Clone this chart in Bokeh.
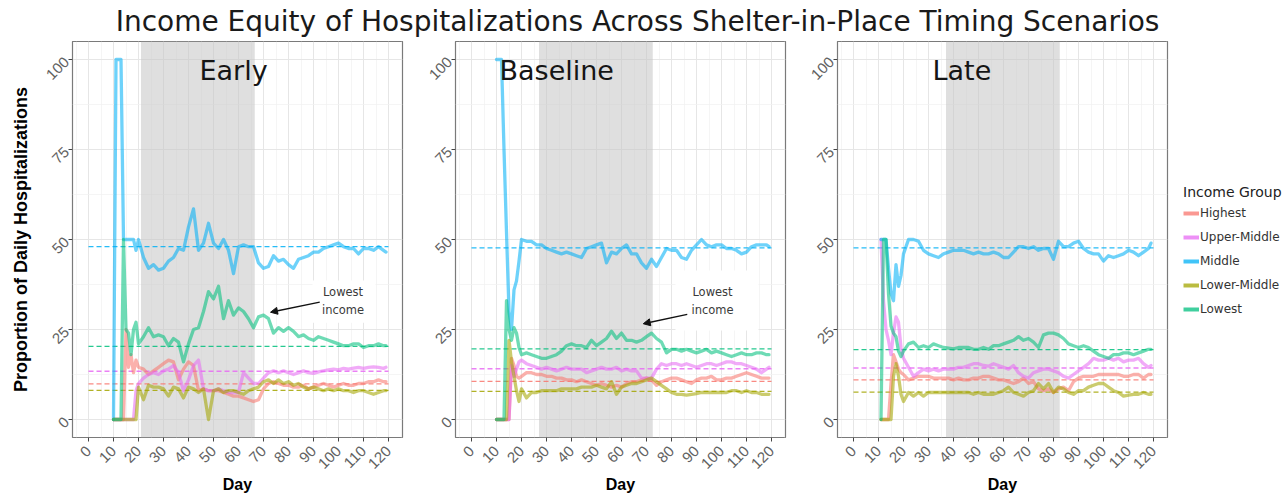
import math
import numpy as np
from bokeh.plotting import figure
from bokeh.models import (Range1d, BoxAnnotation, Label, Arrow, NormalHead, Legend,
                          LegendItem, FixedTicker)
from bokeh.layouts import row, column
from bokeh.embed import file_html
from bokeh.resources import INLINE

nan = float("nan")

TITLE = "Income Equity of Hospitalizations Across Shelter-in-Place Timing Scenarios"
SCENARIOS = ["Early", "Baseline", "Late"]
GROUPS = ["Highest", "Upper-Middle", "Middle", "Lower-Middle", "Lowest"]
COLORS = ["#F8766D", "#E76BF3", "#00B0F6", "#A3A500", "#00BF7D"]

X_TICKS = [0, 10, 20, 30, 40, 50, 60, 70, 80, 90, 100, 110, 120]
X_MINOR = [-5, 5, 15, 25, 35, 45, 55, 65, 75, 85, 95, 105, 115, 125]
Y_TICKS = [0, 25, 50, 75, 100]
Y_MINOR = [12.5, 37.5, 62.5, 87.5]

DAYS = [10, 11, 12, 13, 14, 15, 16, 17, 18, 19, 20,
        22, 24, 26, 28, 30, 32, 34, 36, 38, 40,
        42, 44, 46, 48, 50, 52, 54, 56, 58, 60,
        62, 64, 66, 68, 70, 72, 74, 76, 78, 80,
        82, 84, 86, 88, 90, 92, 94, 96, 98, 100,
        102, 104, 106, 108, 110, 112, 114, 116, 118, 119]

# shelter-in-place windows (days)
SIP_START = [21, 27, 37]
SIP_END = [66.5, 72.5, 82.5]

# population-share reference levels (dashed), order = GROUPS
REF_EARLY = [9.9, 13.4, 48.0, 8.1, 20.3]
REF_BASELINE = [10.6, 14.1, 47.7, 7.8, 19.6]
REF_LATE = [11.0, 14.3, 47.7, 7.6, 19.4]
REF_FROM_DAY = 0
REF_TO_DAY = 120

# ---------------- Early ----------------
EARLY_HIGHEST = [0, 0, 0, 0, 0, 25, 14.5, 18, 13, 16.5, 14.5,
                 14, 12.5, 13.5, 14.5, 15.5, 16.5, 16, 11, 14, 16,
                 15, 8, 8.5, 8, 8, 8, 7.5, 7, 6.5, 6.5,
                 6, 5.5, 5, 5.5, 8.5, 10, 10.5, 10, 9.5, 9.5,
                 9, 9, 9.5, 8.5, 9, 9.5, 10, 9.5, 9, 9.5,
                 10, 9.5, 9.5, 10, 10, 10.5, 10.5, 11, 10.5, 10.5]
EARLY_UPPER_MIDDLE = [0, 0, 0, 0, 0, 0, 0, 0, 0, 8, 10,
                      11.5, 12.5, 13, 12.5, 13.5, 14, 15, 13, 8, 11,
                      15, 16.5, 8.5, 8, 8, 8.5, 8, 7.5, 7.5, 7.5,
                      13, 11.5, 10, 10, 11.5, 13, 13.5, 13, 13.5, 13,
                      12.5, 13, 13.5, 13, 12.8, 13.2, 13.5, 13.8, 14, 13.8,
                      14.2, 14, 14.3, 14.5, 14.2, 14.5, 14.6, 14.5, 14.2, 14.5]
EARLY_MIDDLE = [0, 100, 100, 100, 50, 50, 50, 50, 50, 47, 50,
                45, 42, 43, 41.5, 42, 44, 45, 47.5, 47, 53.5,
                58.5, 47, 49, 54.5, 49, 47.5, 50, 47, 40.5, 48,
                48.5, 48, 48, 43.5, 42, 42.5, 45.5, 44, 44.5, 43,
                42, 44.5, 45, 45.5, 46.5, 46.5, 47.5, 48, 48.5, 49,
                48, 47.5, 47.5, 46, 47.5, 47.5, 47, 48, 47, 46.5]
EARLY_LOWER_MIDDLE = [0, 0, 0, 0, 0, 0, 0, 0, 0, 0, 9,
                      5.5, 9.5, 9, 9, 8.5, 6.5, 9, 8.5, 6, 9,
                      8.5, 7.5, 8.5, 0, 8, 8.5, 7.5, 8, 8, 7.5,
                      7, 8, 8.5, 9, 10.5, 11, 10, 11, 10, 10.5,
                      9.5, 10, 9, 8.5, 9, 8.5, 8, 8.5, 8, 8.5,
                      8, 8, 7.5, 8, 8, 7.5, 7, 7.5, 8, 8]
EARLY_LOWEST = [0, 0, 0, 0, 50, 25, 24, 18, 25, 27, 21,
                23, 25.5, 23, 23.5, 23, 20.5, 22.5, 21.5, 16, 21,
                25, 25.5, 30, 35.5, 33.5, 37, 28, 33, 29, 31,
                30, 28, 25.5, 28.5, 29, 28, 24, 25.5, 24.5, 25.5,
                24.5, 23, 23.5, 22.5, 22, 23, 22.5, 22, 21.5, 21,
                20.5, 20.5, 21, 21, 20, 20.5, 20.5, 21, 20.5, 20.5]

# ---------------- Baseline ----------------
BASELINE_HIGHEST = [0, 0, 0, 0, 0, 0, 17, 15, 12, 11.5, 12,
                    13, 13, 12.5, 12.5, 12, 12, 11.5, 11.5, 11, 11,
                    10.5, 11, 10.5, 10, 9.5, 10, 9.5, 9, 9.5, 9,
                    10, 10.5, 10.5, 11, 11.5, 11, 9.5, 10.5, 11, 11.5,
                    11.5, 11, 10.5, 10, 11, 11.5, 11.5, 12, 11, 11,
                    11.5, 11.5, 12, 12.5, 13, 12.5, 12, 11.5, 11.5, 11.5]
BASELINE_UPPER_MIDDLE = [0, 0, 0, 0, 0, 0, 15, 12, 14, 16, 16.5,
                         15.5, 15, 14.5, 14, 14.5, 14, 13.5, 14, 14.5, 14,
                         14, 14, 13, 13.5, 14, 14.5, 14, 14, 14.5, 13.5,
                         14, 13.5, 13.5, 11.5, 11.5, 11.5, 14, 15.5, 15, 15.5,
                         15.5, 15, 15.5, 15, 14.5, 15, 15.5, 15.5, 15, 15.5,
                         16, 16, 15.5, 15.5, 15, 14.5, 14, 13, 14, 14.5]
BASELINE_MIDDLE = [100, 100, 100, 75, 52, 30, 25, 36, 38.5, 44, 50,
                   49.5, 49.5, 48.5, 48.5, 47.5, 47, 46.5, 46, 46.5, 46,
                   45.5, 45, 47.5, 48, 48.5, 49, 43.5, 46.5, 46, 47.5,
                   48.5, 46, 46, 43.5, 42, 44.5, 42.5, 45, 47.5, 47,
                   47, 45, 44.5, 47, 48.5, 50, 48.5, 48, 48.5, 48.5,
                   47.5, 47.5, 47, 46, 46.5, 48, 48.5, 48.5, 48.5, 48]
BASELINE_LOWER_MIDDLE = [0, 0, 0, 0, 0, 22, 16, 12, 8, 5, 8.5,
                         6, 7.5, 7.5, 8, 8, 8, 8, 8.5, 8.5, 8.5,
                         8.5, 9, 9, 9, 9.5, 9, 8.5, 10.5, 7, 9,
                         9.5, 10, 10, 10.5, 11, 11.5, 10.5, 9.5, 8.5, 7.5,
                         7, 7, 6.8, 7, 7.2, 7.5, 7.5, 7.5, 7.5, 7.5,
                         7.5, 8, 8, 7.5, 8, 7.5, 7.5, 7, 7, 7]
BASELINE_LOWEST = [0, 0, 0, 0, 33, 25, 22, 25.5, 24, 20, 18,
                   18.5, 18, 17.5, 17, 17, 17.5, 18, 19, 20.5, 21,
                   20.5, 20.5, 20, 22, 20.5, 21.5, 22.5, 24.5, 22.5, 24,
                   22, 22, 21.5, 22, 23, 24, 22.5, 21.5, 18.5, 19.5,
                   19.5, 19, 19.5, 19, 18.5, 19, 19.5, 18.5, 19, 18.5,
                   18, 17.5, 18, 18.5, 18, 18, 18.5, 18.5, 18, 18]

# ---------------- Late ----------------
LATE_HIGHEST = [nan, 0, 0, 0, 0, 10, 18, 16, 14, 13, 12.5,
                11, 11.5, 12, 12, 12, 11.5, 11.5, 11.5, 11.5, 11,
                11.5, 11, 11, 11.5, 11.5, 12, 12, 11.5, 11, 11,
                10.5, 10, 10.5, 11.5, 10, 10.5, 8.5, 8, 8.5, 7.5,
                8.5, 9, 8, 10.5, 11.5, 12, 12, 12, 12.5, 12.5,
                12.5, 12.5, 12.5, 12, 12, 12.5, 12.5, 11.5, 12.5, 12.5]
LATE_UPPER_MIDDLE = [nan, 50, 33, 25, 22, 18, 24, 28.5, 27, 20, 17,
                     14.5, 12, 13, 14, 13.5, 14, 13.5, 14, 14, 14,
                     14.5, 14.5, 15, 15.5, 15.5, 15, 14.8, 15.5, 15, 14.5,
                     14, 15, 13, 12, 11.5, 13, 13.5, 14, 14, 13.5,
                     13, 12, 11.5, 12.5, 13.5, 14.5, 15.5, 17, 16.5, 16.5,
                     17, 16.5, 17, 16, 16.5, 16.5, 17, 15.5, 14.5, 15]
LATE_MIDDLE = [nan, 50, 50, 50, 42, 35, 33, 43, 37, 40, 46,
               50, 50, 49.5, 47, 46, 45.5, 45, 46, 46.5, 47,
               47, 47, 46.5, 46, 46.5, 46, 46, 46.5, 46, 45,
               45, 46.5, 48, 48, 47.5, 48, 47, 47.5, 47.5, 44.5,
               49.5, 48, 48, 49, 49.5, 47.5, 46.5, 46, 46, 44,
               45.5, 45, 45.5, 46, 47, 46.5, 45.5, 46.5, 47.5, 49]
LATE_LOWER_MIDDLE = [nan, 0, 0, 0, 0, 0, 12, 15.5, 12, 7, 5,
                     7.5, 6.5, 7.5, 6.5, 7.5, 7.5, 7.5, 7.5, 7.5, 7.5,
                     7.5, 7.5, 7.5, 7, 7.5, 7, 7, 7, 7.5, 8,
                     9, 7.5, 7, 6.5, 7.5, 8, 10, 8.5, 10, 7.5,
                     9, 8.5, 7.5, 7, 8, 8, 9, 9.5, 10, 10,
                     9, 8, 7.5, 6.5, 6.8, 7, 7, 7.5, 7, 7]
LATE_LOWEST = [nan, 0, 50, 50, 35, 26, 24, 23, 19, 17.5, 19,
               21, 21.5, 20, 20.5, 20, 21, 20.5, 20, 19.8, 19.6,
               20, 20, 20, 19.5, 19.5, 20, 19.5, 20.5, 20.5, 21,
               21.5, 22, 23, 22, 22.5, 21.5, 20, 23.5, 24, 24,
               23.5, 22.5, 21, 20.5, 20, 20.5, 20, 19, 18, 17.5,
               17, 18, 18, 18.5, 18.5, 18, 18.5, 19, 19.5, 19.5]

SERIES = {
    "Early": [EARLY_HIGHEST, EARLY_UPPER_MIDDLE, EARLY_MIDDLE, EARLY_LOWER_MIDDLE, EARLY_LOWEST],
    "Baseline": [BASELINE_HIGHEST, BASELINE_UPPER_MIDDLE, BASELINE_MIDDLE, BASELINE_LOWER_MIDDLE, BASELINE_LOWEST],
    "Late": [LATE_HIGHEST, LATE_UPPER_MIDDLE, LATE_MIDDLE, LATE_LOWER_MIDDLE, LATE_LOWEST],
}
REFS = {"Early": REF_EARLY, "Baseline": REF_BASELINE, "Late": REF_LATE}

ANNOT_LINES = ["Lowest", "income"]

SANS = "Liberation Sans"
VER = "DejaVu Sans"


def make_panel(i, name, left_border, right_border, ylabel):
    p = figure(frame_width=330, frame_height=396,
               x_range=Range1d(-6.4, 125.6), y_range=Range1d(-5, 105),
               output_backend="svg", toolbar_location=None,
               min_border_left=left_border, min_border_right=right_border,
               min_border_top=0, min_border_bottom=50,
               background_fill_color="white", border_fill_color="white")
    p.outline_line_color = "#7a7a7a"
    p.outline_line_width = 1.2

    p.xaxis.ticker = FixedTicker(ticks=X_TICKS, minor_ticks=X_MINOR)
    p.yaxis.ticker = FixedTicker(ticks=Y_TICKS, minor_ticks=Y_MINOR)
    for ax in (p.xaxis[0], p.yaxis[0]):
        ax.axis_line_color = None
        ax.major_tick_line_color = "#444444"
        ax.major_tick_out = 4
        ax.major_tick_in = 0
        ax.minor_tick_line_color = None
        ax.major_label_text_font = SANS
        ax.major_label_text_font_size = "15px"
        ax.major_label_text_color = "#626262"
        ax.major_label_orientation = math.pi / 4
        ax.major_label_standoff = 2
    p.xaxis.major_label_standoff = 7
    p.xaxis.axis_label = "Day"
    p.xaxis.axis_label_text_font = SANS
    p.xaxis.axis_label_text_font_style = "bold"
    p.xaxis.axis_label_text_font_size = "16px"
    p.xaxis.axis_label_text_color = "black"
    p.xaxis.axis_label_standoff = 0
    if ylabel:
        p.yaxis.axis_label = "Proportion of Daily Hospitalizations"
        p.yaxis.axis_label_text_font = SANS
        p.yaxis.axis_label_text_font_style = "bold"
        p.yaxis.axis_label_text_font_size = "18px"
        p.yaxis.axis_label_text_color = "black"
        p.yaxis.axis_label_standoff = 8

    for g in (p.xgrid[0], p.ygrid[0]):
        g.grid_line_color = "#e6e6e6"
        g.grid_line_width = 1
        g.minor_grid_line_color = "#f1f1f1"
        g.minor_grid_line_width = 0.7

    # shelter-in-place window
    p.add_layout(BoxAnnotation(left=SIP_START[i], right=SIP_END[i], level="underlay",
                               fill_color="#c4c4c4", fill_alpha=0.55, line_color=None))

    # dashed reference levels
    refs = REFS[name]
    p.segment(x0=[REF_FROM_DAY] * len(GROUPS), x1=[REF_TO_DAY] * len(GROUPS),
              y0=refs, y1=refs, line_color=COLORS, line_dash="5 3",
              line_width=1.3, line_alpha=0.85)

    for vals, col in zip(SERIES[name], COLORS):
        p.line(np.array(DAYS, dtype=float), np.array(vals, dtype=float),
               line_color=col, line_width=3.3, line_alpha=0.57,
               line_join="round", line_cap="round")
    return p


p1 = make_panel(0, "Early", 72, 12, True)
p2 = make_panel(1, "Baseline", 41, 12, False)
p3 = make_panel(2, "Late", 40, 115, False)

# scenario labels
for p, name, lx in ((p1, "Early", 44.4), (p2, "Baseline", 11.2), (p3, "Late", 31.6)):
    p.add_layout(Label(x=lx, y=97, text=name, text_font=VER, text_font_size="27px",
                       text_color="#151515", text_baseline="middle", text_align="left"))

# "Lowest income" annotations
for p, (bl, br, bb, bt), tx, (xs, ys, xe, ye) in (
        (p1, (89.6, 114.8, 26.9, 38.6), 101.8, (92.5, 32.6, 72.8, 29.8)),
        (p2, (81.6, 114.8, 24.7, 41.4), 96.4, (86.3, 29.2, 68.7, 26.6))):
    p.add_layout(BoxAnnotation(left=bl, right=br, bottom=bb, top=bt, level="underlay",
                               fill_color="white", fill_alpha=1, line_color=None))
    p.add_layout(Label(x=tx, y=35.3, text=ANNOT_LINES[0], text_font=VER, text_font_size="11.5px",
                       text_color="#3a3a3a", text_align="center", text_baseline="middle"))
    p.add_layout(Label(x=tx, y=30.3, text=ANNOT_LINES[1], text_font=VER, text_font_size="11.5px",
                       text_color="#3a3a3a", text_align="center", text_baseline="middle"))
    p.add_layout(Arrow(end=NormalHead(size=7, fill_color="#111111", line_color="#111111"),
                       x_start=xs, y_start=ys, x_end=xe, y_end=ye,
                       line_color="#111111", line_width=1.4))

# legend keys: renderers that draw nothing in the panel, only a bold key glyph
items = []
for gname, col in zip(GROUPS, COLORS):
    r = p3.line(x=[nan], y=[nan], line_color=col, line_width=4, line_alpha=0.75)
    items.append(LegendItem(label=gname, renderers=[r]))
legend = Legend(items=items, location=(16, 118), title="Income Group",
                title_text_font=VER, title_text_font_size="14px", title_text_font_style="normal",
                title_text_color="#222222", title_standoff=3,
                label_text_font=VER, label_text_font_size="12px", label_text_color="#333333",
                glyph_width=16, glyph_height=20, label_height=20, label_standoff=1,
                spacing=4, padding=0, margin=0, border_line_color=None,
                background_fill_alpha=0)
p3.add_layout(legend, "right")

# overall title drawn on its own strip above the panels (no title panel, no axes)
tfig = figure(width=1282, height=41, x_range=Range1d(0, 1), y_range=Range1d(0, 1),
              output_backend="svg", toolbar_location=None, min_border=0, title=None,
              x_axis_location=None, y_axis_location=None)
tfig.outline_line_color = None
tfig.xgrid.visible = False
tfig.ygrid.visible = False
tfig.add_layout(Label(x=0.4969, y=0.5, text=TITLE, text_font=VER,
                      text_font_size="28px", text_color="#1a1a1a", text_align="center",
                      text_baseline="middle"))

layout = column(tfig, row(p1, p2, p3))
open("out.html", "w").write(file_html(layout, INLINE))
